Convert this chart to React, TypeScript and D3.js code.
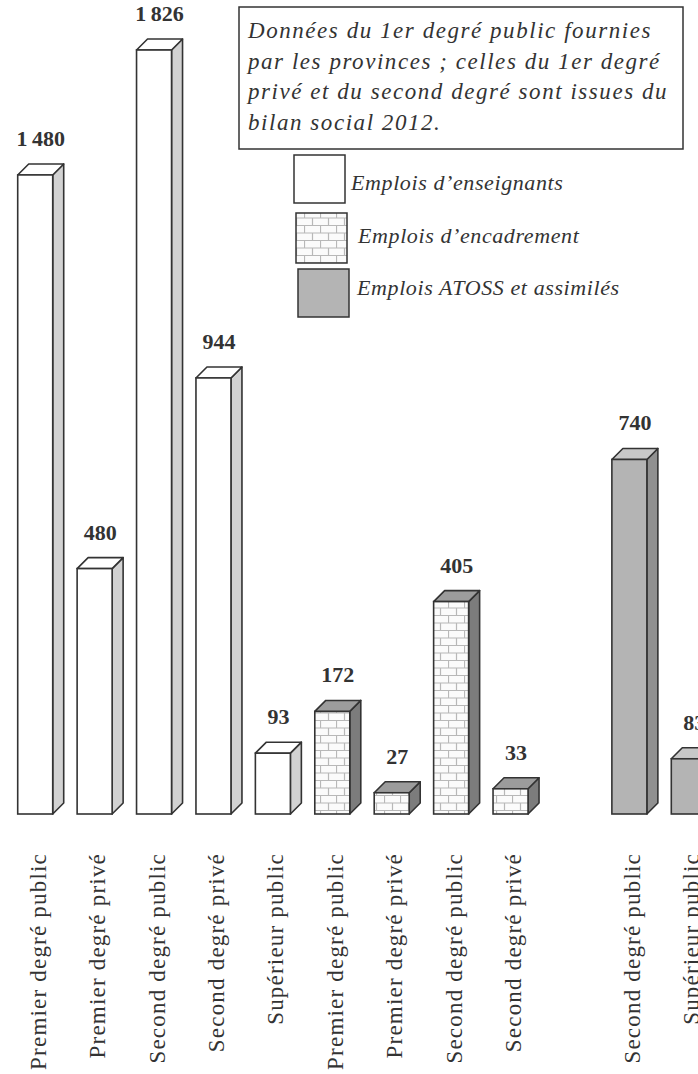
import React from "react";
import * as d3 from "d3";

// ---- Data ----
const enseignantsCats = ["Premier degré public", "Premier degré privé", "Second degré public", "Second degré privé", "Supérieur public"];
const enseignantsValues = [1480, 480, 1826, 944, 93];
const encadrementCats = ["Premier degré public", "Premier degré privé", "Second degré public", "Second degré privé"];
const encadrementValues = [172, 27, 405, 33];
const atossCats = ["Second degré public", "Supérieur public"];
const atossValues = [740, 83];
const seriesNames = ["Emplois d\u2019enseignants", "Emplois d\u2019encadrement", "Emplois ATOSS et assimilés"];
const noteLines = [
  "Données du 1er degré public fournies",
  "par les provinces ; celles du 1er degré",
  "privé et du second degré sont issues du",
  "bilan social 2012.",
];

const W = 698;
const H = 1074;
const SERIF = "'Liberation Serif', 'Times New Roman', Times, serif";

type Bar = { series: number; cat: string; value: number; slot: number };

const bars: Bar[] = [];
let slot = 0;
enseignantsCats.forEach((c, i) => bars.push({ series: 0, cat: c, value: enseignantsValues[i], slot: slot++ }));
encadrementCats.forEach((c, i) => bars.push({ series: 1, cat: c, value: encadrementValues[i], slot: slot++ }));
slot++; // empty slot between groups
atossCats.forEach((c, i) => bars.push({ series: 2, cat: c, value: atossValues[i], slot: slot++ }));
const nSlots = slot;

const styles = [
  { front: "#ffffff", side: "#d2d2d2", top: "#ffffff" },
  { front: "url(#brick)", side: "#7c7c7c", top: "#9c9c9c" },
  { front: "#b4b4b4", side: "#909090", top: "#c8c8c8" },
];

const frFormat = d3.formatLocale({ decimal: ",", thousands: "\u2009", grouping: [3], currency: ["", "€"] }).format(",");

export default function App() {
  const x = d3.scaleBand<number>().domain(d3.range(nSlots)).range([11, 724]).paddingInner(0).paddingOuter(0);
  const y = d3.scalePow().exponent(0.85).domain([0, 1826]).range([814, 50]);
  const barW = 35;
  const depth = 11;
  const stroke = "#333";

  return (
    <svg width={W} height={H} style={{ position: "absolute", left: 0, top: 0, background: "#fff" }}>
      <defs>
        <pattern id="brick" patternUnits="userSpaceOnUse" width={16} height={15}>
          <rect width={16} height={15} fill="#fbfbfb" />
          <path d="M0,0.5H16M0,8H16M0.5,0V8M8.5,8V15" stroke="#b8b8b8" strokeWidth={1.2} fill="none" />
        </pattern>
      </defs>

      {/* bars */}
      {bars.map((b, i) => {
        const cx = (x(b.slot) as number) + x.bandwidth() / 2;
        const x0 = cx - (barW + depth) / 2;
        const yT = y(b.value);
        const yB = y(0);
        const st = styles[b.series];
        return (
          <g key={i}>
            <polygon
              points={`${x0 + barW},${yT} ${x0 + barW + depth},${yT - depth} ${x0 + barW + depth},${yB - depth} ${x0 + barW},${yB}`}
              fill={st.side}
              stroke={stroke}
              strokeWidth={1.6}
              strokeLinejoin="round"
            />
            <polygon
              points={`${x0},${yT} ${x0 + depth},${yT - depth} ${x0 + barW + depth},${yT - depth} ${x0 + barW},${yT}`}
              fill={st.top}
              stroke={stroke}
              strokeWidth={1.6}
              strokeLinejoin="round"
            />
            <rect x={x0} y={yT} width={barW} height={yB - yT} fill={st.front} stroke={stroke} strokeWidth={1.6} />
            <text
              x={x0 + (barW + depth) / 2}
              y={yT - depth - 18}
              textAnchor="middle"
              fontFamily={SERIF}
              fontWeight="bold"
              fontSize={22}
              fill="#333"
            >
              {frFormat(b.value)}
            </text>
          </g>
        );
      })}

      {/* category labels */}
      {bars.map((b, i) => {
        const cx = (x(b.slot) as number) + x.bandwidth() / 2;
        return (
          <text
            key={"l" + i}
            transform={`translate(${cx + 5},853) rotate(-90)`}
            textAnchor="end"
            fontFamily={SERIF}
            fontSize={23}
            letterSpacing={1.2}
            fill="#333"
          >
            {b.cat}
          </text>
        );
      })}

      {/* note box */}
      <rect x={239} y={7} width={444} height={142} fill="#fff" stroke={stroke} strokeWidth={1.5} />
      {noteLines.map((t, i) => (
        <text
          key={"n" + i}
          x={248}
          y={38 + i * 30.5}
          fontFamily={SERIF}
          fontStyle="italic"
          fontSize={23}
          letterSpacing={1.55}
          fill="#333"
        >
          {t}
        </text>
      ))}

      {/* legend */}
      {[
        { rx: 294, ry: 155, rh: 48, tx: 351, ty: 190 },
        { rx: 296, ry: 213, rh: 50, tx: 358, ty: 243 },
        { rx: 298, ry: 269, rh: 48, tx: 357, ty: 295 },
      ].map((p, i) => (
        <g key={"lg" + i}>
          <rect x={p.rx} y={p.ry} width={51} height={p.rh} fill={styles[i].front} stroke={stroke} strokeWidth={1.5} />
          <text x={p.tx} y={p.ty} fontFamily={SERIF} fontStyle="italic" fontSize={22} letterSpacing={0.6} fill="#333">
            {seriesNames[i]}
          </text>
        </g>
      ))}
    </svg>
  );
}
